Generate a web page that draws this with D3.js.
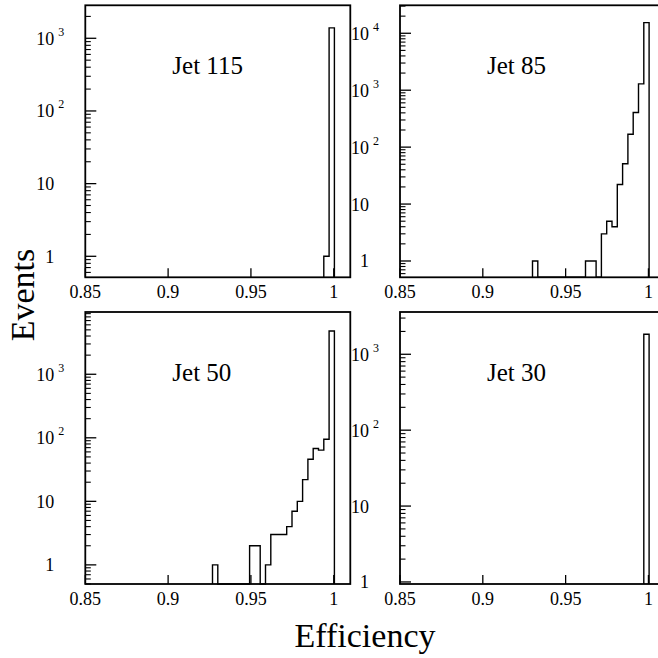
<!DOCTYPE html>
<html>
<head>
<meta charset="utf-8">
<script src="https://cdn.jsdelivr.net/npm/d3@7"></script>
<style>
  html, body { margin: 0; padding: 0; background: #fff; }
  svg { display: block; }
  text { font-family: "Liberation Serif", "Times New Roman", serif; fill: #000; }
</style>
</head>
<body>
<svg id="chart" width="658" height="658"></svg>
<script>
// ---- data ----
const binWidth = 0.0032;
const xTicks = [0.85, 0.9, 0.95, 1];
const xTickLabels = ["0.85", "0.9", "0.95", "1"];
const xDomain = [0.85, 1.01];

const panelTitles = ["Jet 115", "Jet 85", "Jet 50", "Jet 30"];

const jet115Lo = [0.9940, 0.9972];
const jet115Counts = [1, 1390];

const jet85Lo = [0.9300, 0.9620, 0.9652, 0.9684, 0.9716, 0.9748, 0.9780, 0.9812, 0.9844, 0.9876, 0.9908, 0.9940, 0.9972];
const jet85Counts = [1, 1, 1, 0, 3, 5, 4, 22, 51, 168, 405, 1290, 15400];

const jet50Lo = [0.9268, 0.9492, 0.9524, 0.9556, 0.9588, 0.9620, 0.9652, 0.9684, 0.9716, 0.9748, 0.9780, 0.9812, 0.9844, 0.9876, 0.9908, 0.9940, 0.9972];
const jet50Counts = [1, 2, 2, 0, 1, 3, 3, 3, 4, 7, 10, 22, 46, 68, 64, 95, 4800];

const jet30Lo = [0.9972];
const jet30Counts = [1840];

const yDomains = [[0.514, 2844], [0.517, 31000], [0.50, 9550], [0.94, 3606]];
const yMajorTicks = [[1, 10, 100, 1000], [1, 10, 100, 1000, 10000], [1, 10, 100, 1000], [1, 10, 100, 1000]];

const xAxisTitle = "Efficiency";
const yAxisTitle = "Events";

// ---- layout ----
const svg = d3.select("#chart");
const panelW = 265, panelH = 272;
const panelPos = [[85.3, 5.3], [400, 5.3], [85.3, 312], [400, 312]];
const los = [jet115Lo, jet85Lo, jet50Lo, jet30Lo];
const counts = [jet115Counts, jet85Counts, jet50Counts, jet30Counts];

function expLabel(v) {
  const e = Math.round(Math.log10(v));
  if (e === 0) return {base: "1", sup: null};
  if (e === 1) return {base: "10", sup: null};
  return {base: "10", sup: String(e)};
}

panelPos.forEach((p, i) => {
  const g = svg.append("g").attr("transform", `translate(${p[0]},${p[1]})`);
  const x = d3.scaleLinear().domain(xDomain).range([0, panelW]);
  const y = d3.scaleLog().domain(yDomains[i]).range([panelH, 0]);
  const yc = c => c > 0 ? Math.min(panelH, y(c)) : panelH;

  // histogram outline
  const lo = los[i], ct = counts[i];
  const path = d3.path();
  path.moveTo(x(lo[0]), panelH);
  let prevHi = null;
  lo.forEach((l, j) => {
    const hi = l + binWidth;
    if (prevHi !== null && Math.abs(l - prevHi) > 1e-6) {
      path.lineTo(x(prevHi), panelH);
      path.lineTo(x(l), panelH);
    }
    path.lineTo(x(l), yc(ct[j]));
    path.lineTo(x(hi), yc(ct[j]));
    prevHi = hi;
  });
  path.lineTo(x(prevHi), panelH);
  g.append("path").attr("d", path.toString())
    .attr("fill", "none").attr("stroke", "#000").attr("stroke-width", 1.4)
    .attr("stroke-linejoin", "miter");

  // x ticks (inward)
  xTicks.forEach((t, k) => {
    g.append("line").attr("x1", x(t)).attr("x2", x(t))
      .attr("y1", panelH).attr("y2", panelH - 9)
      .attr("stroke", "#000").attr("stroke-width", 1.3);
    g.append("text").attr("x", x(t)).attr("y", panelH + 21)
      .attr("text-anchor", "middle").attr("font-size", 18)
      .text(xTickLabels[k]);
  });

  // y minor ticks
  const [d0, d1] = yDomains[i];
  const eMin = Math.floor(Math.log10(d0)), eMax = Math.ceil(Math.log10(d1));
  for (let e = eMin; e <= eMax; e++) {
    for (let m = 2; m <= 9; m++) {
      const v = m * Math.pow(10, e);
      if (v < d0 || v > d1) continue;
      g.append("line").attr("x1", 0).attr("x2", 5.5)
        .attr("y1", y(v)).attr("y2", y(v))
        .attr("stroke", "#000").attr("stroke-width", 1.1);
    }
  }
  // y major ticks + labels
  yMajorTicks[i].forEach(v => {
    g.append("line").attr("x1", 0).attr("x2", 11)
      .attr("y1", y(v)).attr("y2", y(v))
      .attr("stroke", "#000").attr("stroke-width", 1.3);
    const lab = expLabel(v);
    g.append("text").attr("x", -31).attr("y", y(v) + 6.5)
      .attr("text-anchor", "end").attr("font-size", 18).text(lab.base);
    if (lab.sup) {
      g.append("text").attr("x", -27).attr("y", y(v) - 2.5)
        .attr("text-anchor", "start").attr("font-size", 12).text(lab.sup);
    }
  });

  // frame
  g.append("rect").attr("x", 0).attr("y", 0).attr("width", panelW).attr("height", panelH)
    .attr("fill", "none").attr("stroke", "#000").attr("stroke-width", 1.8);

  // title
  g.append("text").attr("x", 87).attr("y", 69)
    .attr("font-size", 25).text(panelTitles[i]);
});

svg.append("text").attr("x", 365).attr("y", 646.5)
  .attr("text-anchor", "middle").attr("font-size", 34).text(xAxisTitle);
svg.append("text").attr("transform", "translate(33.5,295) rotate(-90)")
  .attr("text-anchor", "middle").attr("font-size", 34).text(yAxisTitle);
</script>
</body>
</html>
